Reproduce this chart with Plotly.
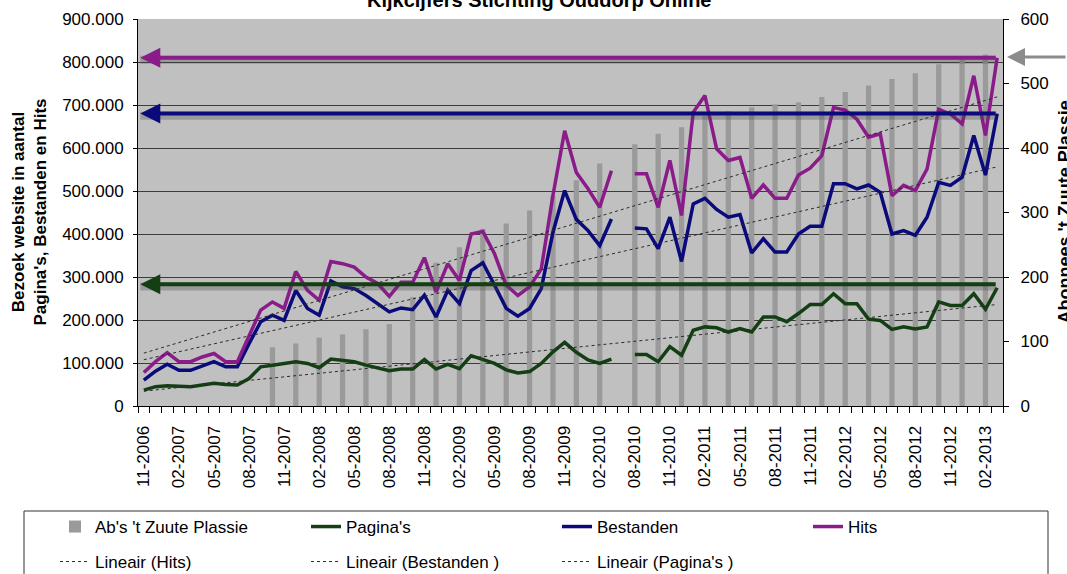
import numpy as np
import plotly.graph_objects as go

# ---------------- data ----------------
categories = [
    "11-2006", "12-2006", "01-2007", "02-2007", "03-2007", "04-2007", "05-2007", "06-2007",
    "07-2007", "08-2007", "09-2007", "10-2007", "11-2007", "12-2007", "01-2008", "02-2008",
    "03-2008", "04-2008", "05-2008", "06-2008", "07-2008", "08-2008", "09-2008", "10-2008",
    "11-2008", "12-2008", "01-2009", "02-2009", "03-2009", "04-2009", "05-2009", "06-2009",
    "07-2009", "08-2009", "09-2009", "10-2009", "11-2009", "12-2009", "01-2010", "02-2010",
    "03-2010", "04-2010", "08-2010", "09-2010", "10-2010", "11-2010", "12-2010", "01-2011",
    "02-2011", "03-2011", "04-2011", "05-2011", "06-2011", "07-2011", "08-2011", "09-2011",
    "10-2011", "11-2011", "12-2011", "01-2012", "02-2012", "03-2012", "04-2012", "05-2012",
    "06-2012", "07-2012", "08-2012", "09-2012", "10-2012", "11-2012", "12-2012", "01-2013",
    "02-2013", "03-2013",
]

hits = [
    78000, 103000, 124000, 103000, 103000, 114000, 122000, 103000, 103000, 165000,
    223000, 242000, 227000, 313000, 269000, 246000, 336000, 331000, 323000, 300000,
    285000, 255000, 288000, 288000, 345000, 265000, 331000, 292000, 400000, 406000,
    354000, 281000, 257000, 277000, 319000, 490000, 640000, 543000, 505000, 462000,
    547000, None, 540000, 540000, 462000, 571000, 443000, 683000, 722000, 598000,
    571000, 578000, 483000, 514000, 483000, 483000, 537000, 553000, 582000, 694000,
    688000, 667000, 625000, 633000, 489000, 513000, 501000, 551000, 690000, 679000,
    656000, 768000, 629000, 810000,
]

bestanden = [
    60000, 81000, 97000, 83000, 83000, 94000, 103000, 91000, 91000, 145000,
    196000, 211000, 199000, 269000, 227000, 211000, 291000, 277000, 273000, 257000,
    238000, 219000, 228000, 224000, 258000, 207000, 269000, 238000, 315000, 333000,
    281000, 227000, 209000, 227000, 273000, 404000, 501000, 434000, 408000, 373000,
    435000, None, 414000, 412000, 366000, 439000, 336000, 470000, 483000, 457000,
    439000, 445000, 356000, 389000, 358000, 358000, 400000, 418000, 418000, 517000,
    517000, 505000, 514000, 497000, 400000, 408000, 397000, 439000, 520000, 513000,
    532000, 629000, 537000, 680000,
]

paginas = [
    37000, 45000, 47000, 45000, 45000, 49000, 53000, 50000, 49000, 64000,
    91000, 95000, 99000, 103000, 99000, 89000, 109000, 105000, 103000, 95000,
    89000, 82000, 86000, 86000, 108000, 86000, 97000, 87000, 117000, 107000,
    99000, 84000, 77000, 80000, 99000, 126000, 148000, 125000, 107000, 99000,
    109000, None, 120000, 120000, 103000, 138000, 118000, 176000, 184000, 182000,
    172000, 180000, 172000, 207000, 207000, 196000, 215000, 236000, 236000, 261000,
    238000, 238000, 202000, 199000, 178000, 184000, 179000, 184000, 242000, 234000,
    234000, 261000, 225000, 275000,
]

abonnees = [
    None, None, None, None, None, None, None, None, None, None,
    None, 91, None, 97, None, 106, None, 111, None, 119,
    None, 127, None, 169, None, 222, None, 246, None, 275,
    None, 283, None, 303, None, 326, None, 350, None, 376,
    None, None, 406, None, 422, None, 432, None, 450, None,
    457, None, 463, None, 468, None, 471, None, 479, None,
    487, None, 497, None, 507, None, 516, None, 530, None,
    537, None, 545, None,
]

# reference levels marked with arrows
level_hits = 810000
level_bestanden = 680000
level_paginas = 283000
level_abonnees = 541

title_text = "Kijkcijfers Stichting Ouddorp Online"
left_title = "Bezoek website in aantal<br>Pagina's, Bestanden en Hits"
right_title = "Abonnees 't Zuute Plassie"

# ---------------- style ----------------
C_HITS = "#8a1c8a"
C_BEST = "#0a0a7a"
C_PAG = "#143f14"
C_BAR = "#9a9a9a"
C_TREND = "#2a2a2a"
FONT = "Arial, Liberation Sans, sans-serif"

W, H = 1067, 574
L, R, T, B = 138, 64, 19, 168
PW = W - L - R
PH = H - T - B


def px_x(p):
    return (p - L) / PW


def px_y(p):
    return (H - B - p) / PH


x_idx = list(range(len(categories)))


def trend(vals):
    xs = [i for i, v in enumerate(vals) if v is not None]
    ys = [v for v in vals if v is not None]
    a, b = np.polyfit(xs, ys, 1)
    return [a * i + b for i in x_idx]


fig = go.Figure()

fig.add_trace(go.Bar(
    x=x_idx, y=abonnees, name="Ab's 't Zuute Plassie", yaxis="y",
    marker=dict(color=C_BAR, line=dict(width=0)), width=0.45, legend="legend",
))
fig.add_trace(go.Scatter(
    x=x_idx, y=paginas, name="Pagina's", yaxis="y2", mode="lines",
    line=dict(color=C_PAG, width=3.5), connectgaps=False, legend="legend",
))
fig.add_trace(go.Scatter(
    x=x_idx, y=bestanden, name="Bestanden", yaxis="y2", mode="lines",
    line=dict(color=C_BEST, width=3.5), connectgaps=False, legend="legend",
))
fig.add_trace(go.Scatter(
    x=x_idx, y=hits, name="Hits", yaxis="y2", mode="lines",
    line=dict(color=C_HITS, width=3.5), connectgaps=False, legend="legend",
))
for name, vals in [("Lineair (Hits)", hits), ("Lineair (Bestanden )", bestanden),
                   ("Lineair (Pagina's )", paginas)]:
    fig.add_trace(go.Scatter(
        x=x_idx, y=trend(vals), name=name, yaxis="y2", mode="lines",
        line=dict(color=C_TREND, width=1, dash="3px,3px"), legend="legend2",
    ))

annotations = []
# coloured level arrows with a soft shadow
for lvl, col in [(level_hits, C_HITS), (level_bestanden, C_BEST), (level_paginas, C_PAG)]:
    annotations.append(dict(
        x=-0.3, y=lvl - 5000, ax=73, ay=lvl - 5000, xref="x", yref="y2", axref="x", ayref="y2",
        text="", showarrow=True, arrowhead=0, arrowwidth=8, arrowcolor="rgba(70,70,70,0.30)",
    ))
    annotations.append(dict(
        x=-0.3, y=lvl, ax=73, ay=lvl, xref="x", yref="y2", axref="x", ayref="y2",
        text="", showarrow=True, arrowhead=2, arrowsize=1.0, arrowwidth=4, arrowcolor=col,
    ))
# grey arrow at the right side
annotations.append(dict(
    x=px_x(1007), y=level_abonnees, xref="paper", yref="y", ax=75, ay=0,
    text="", showarrow=True, arrowhead=2, arrowsize=1.2, arrowwidth=3, arrowcolor="#8c8c8c",
))
# titles
annotations.append(dict(
    x=px_x(539), y=px_y(0), xref="paper", yref="paper", text="<b>" + title_text + "</b>",
    showarrow=False, xanchor="center", yanchor="middle",
    font=dict(family=FONT, size=20, color="black"),
))
annotations.append(dict(
    x=px_x(29), y=0.5, xref="paper", yref="paper", text="<b>" + left_title + "</b>",
    showarrow=False, xanchor="center", yanchor="middle", textangle=-90,
    font=dict(family=FONT, size=17, color="black"),
))
annotations.append(dict(
    x=px_x(1064), y=0.5, xref="paper", yref="paper", text="<b>" + right_title + "</b>",
    showarrow=False, xanchor="center", yanchor="middle", textangle=-90,
    font=dict(family=FONT, size=18, color="black"),
))

shapes = [dict(
    type="rect", xref="paper", yref="paper",
    x0=px_x(24), x1=px_x(1048), y0=px_y(511), y1=px_y(600),
    line=dict(color="#333333", width=1), fillcolor="rgba(0,0,0,0)", layer="above",
)]

tick_pos = x_idx[::3]
tick_txt = categories[::3]

fig.update_layout(
    width=W, height=H,
    margin=dict(l=L, r=R, t=T, b=B, autoexpand=False),
    paper_bgcolor="white", plot_bgcolor="#c0c0c0",
    separators=",.",
    font=dict(family=FONT, size=17, color="black"),
    barmode="overlay",
    showlegend=True,
    xaxis=dict(
        type="linear", range=[-0.5, len(categories) - 0.5],
        tickmode="array", tickvals=tick_pos, ticktext=tick_txt, tickangle=-90,
        ticks="", ticklabelstandoff=12,
        minor=dict(tickmode="linear", tick0=-0.5, dtick=1, ticks="outside",
                   ticklen=6, tickcolor="black", tickwidth=1, showgrid=False),
        showgrid=False, zeroline=False, showline=True, linecolor="black", linewidth=1,
        tickfont=dict(size=17, color="black"),
    ),
    yaxis=dict(
        side="right", range=[0, 600], tickmode="linear", tick0=0, dtick=100,
        showgrid=False, zeroline=False, showline=True, linecolor="black", linewidth=1,
        ticks="outside", ticklen=5, tickcolor="black", ticklabelstandoff=8,
        tickfont=dict(size=17, color="black"),
    ),
    yaxis2=dict(
        overlaying="y", side="left", range=[0, 900000], tickmode="linear", tick0=0,
        dtick=100000, tickformat=",d",
        showgrid=True, gridcolor="#3c3c3c", gridwidth=1, zeroline=False,
        showline=True, linecolor="black", linewidth=1,
        ticks="outside", ticklen=4, tickcolor="black", ticklabelstandoff=6,
        tickfont=dict(size=17, color="black"),
    ),
    legend=dict(
        orientation="h", x=px_x(55), xanchor="left", y=px_y(527), yanchor="middle",
        entrywidth=206, entrywidthmode="pixels", traceorder="normal",
        font=dict(family=FONT, size=17, color="black"),
        bgcolor="rgba(0,0,0,0)", borderwidth=0,
    ),
    legend2=dict(
        orientation="h", x=px_x(55), xanchor="left", y=px_y(562), yanchor="middle",
        entrywidth=206, entrywidthmode="pixels", traceorder="normal",
        font=dict(family=FONT, size=17, color="black"),
        bgcolor="rgba(0,0,0,0)", borderwidth=0,
    ),
    annotations=annotations,
    shapes=shapes,
)

fig.write_html(
    "out.html",
    config={"displayModeBar": False},
    post_script="document.body.style.margin='0';document.body.style.overflow='hidden';",
)
